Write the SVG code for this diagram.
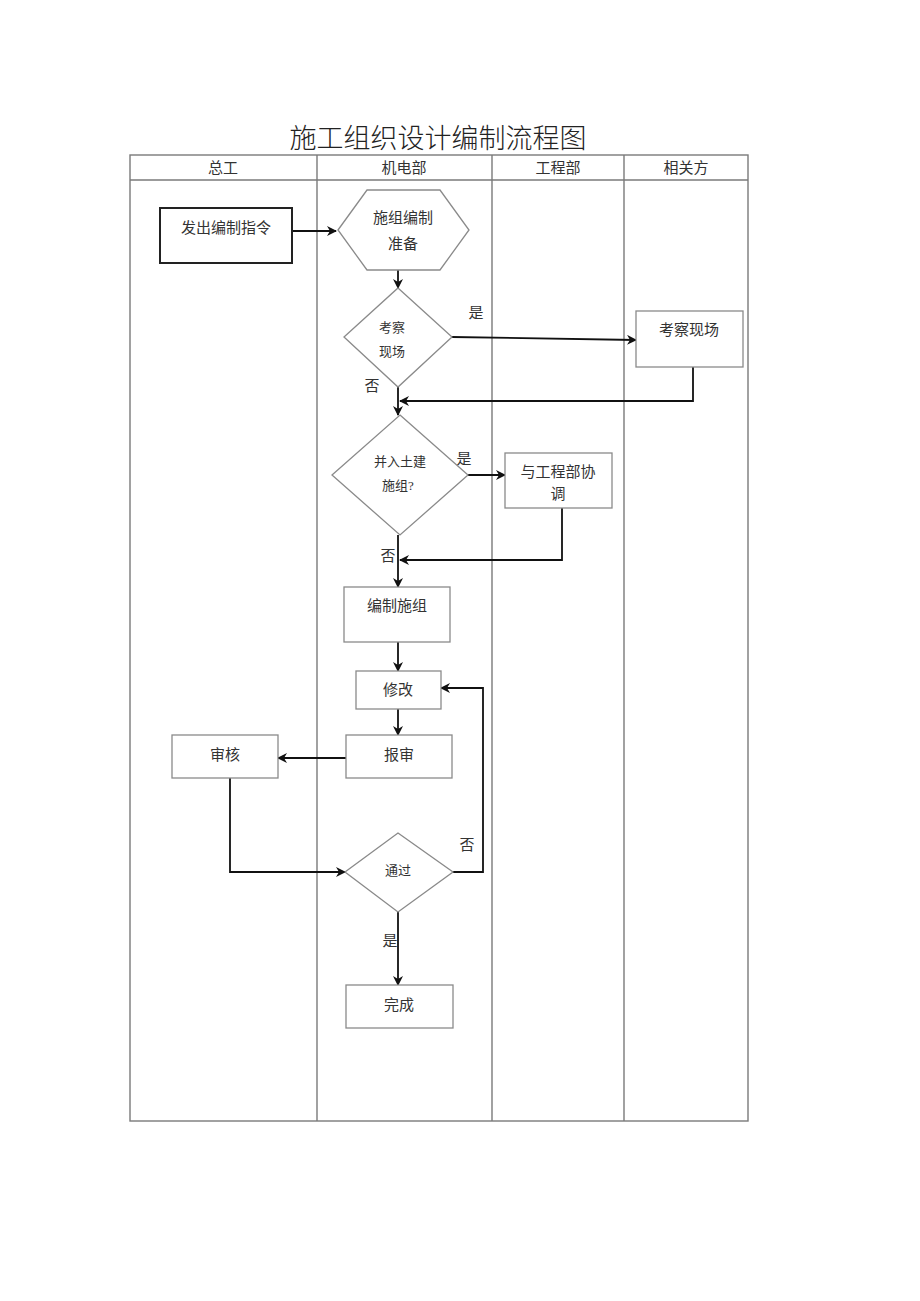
<svg xmlns="http://www.w3.org/2000/svg" width="920" height="1301" viewBox="0 0 920 1301">
<defs>
<marker id="ah" markerWidth="10" markerHeight="10" refX="9" refY="5" orient="auto" markerUnits="userSpaceOnUse">
<path d="M0,0 L10,5 L0,10 L3,5 Z" fill="#111"/>
</marker>
<style>
.t{font-family:"Liberation Serif","Noto Sans CJK SC",serif;fill:#333;text-anchor:middle}
.big{font-size:15px}
.sm{font-size:13px}
.box{fill:#fff;stroke:#8a8a8a;stroke-width:1.3}
.grid{fill:none;stroke:#7a7a7a;stroke-width:1.4}
.c{fill:none;stroke:#111;stroke-width:1.8}
</style>
</defs>
<rect width="920" height="1301" fill="#fff"/>
<text class="t" x="438" y="148" style="font-size:27px;fill:#222;font-weight:300">施工组织设计编制流程图</text>
<g id="table">
<rect class="grid" x="130" y="155" width="618" height="966"/>
<line class="grid" x1="130" y1="180" x2="748" y2="180"/>
<line class="grid" x1="317" y1="155" x2="317" y2="1121"/>
<line class="grid" x1="492" y1="155" x2="492" y2="1121"/>
<line class="grid" x1="624" y1="155" x2="624" y2="1121"/>
<text class="t big" x="223" y="173">总工</text>
<text class="t big" x="404" y="173">机电部</text>
<text class="t big" x="558" y="173">工程部</text>
<text class="t big" x="686" y="173">相关方</text>
</g>
<g id="connectors">
<line class="c" x1="292" y1="231" x2="336" y2="231" marker-end="url(#ah)"/>
<line class="c" x1="398" y1="270" x2="398" y2="288" marker-end="url(#ah)"/>
<line class="c" x1="452" y1="337" x2="636" y2="340" marker-end="url(#ah)"/>
<polyline class="c" points="693,367 693,401 400,401" marker-end="url(#ah)"/>
<line class="c" x1="398" y1="387" x2="398" y2="415" marker-end="url(#ah)"/>
<line class="c" x1="468" y1="475" x2="505" y2="475" marker-end="url(#ah)"/>
<polyline class="c" points="562,508 562,560 400,560" marker-end="url(#ah)"/>
<line class="c" x1="398" y1="535" x2="398" y2="587" marker-end="url(#ah)"/>
<line class="c" x1="398" y1="642" x2="398" y2="671" marker-end="url(#ah)"/>
<line class="c" x1="398" y1="709" x2="398" y2="735" marker-end="url(#ah)"/>
<line class="c" x1="346" y1="758" x2="278" y2="758" marker-end="url(#ah)"/>
<polyline class="c" points="230,778 230,872 345,872" marker-end="url(#ah)"/>
<polyline class="c" points="453,872 483,872 483,688 441,688" marker-end="url(#ah)"/>
<line class="c" x1="398" y1="912" x2="398" y2="985" marker-end="url(#ah)"/>
<text class="t big" x="476" y="318">是</text>
<text class="t big" x="372" y="391">否</text>
<text class="t big" x="464" y="464">是</text>
<text class="t big" x="388" y="561">否</text>
<text class="t big" x="467" y="850">否</text>
<text class="t big" x="390" y="946">是</text>
</g>
<g id="n1"><rect x="160" y="208" width="132" height="55" fill="#fff" stroke="#222" stroke-width="2"/><text class="t big" x="226" y="233">发出编制指令</text></g>
<g id="n2"><polygon class="box" points="338,230 367,190 440,190 469,230 440,270 367,270"/><text class="t big" x="403" y="223">施组编制</text><text class="t big" x="403" y="249">准备</text></g>
<g id="n3"><polygon class="box" points="398,288 452,337 398,387 344,337"/><text class="t sm" x="392" y="332">考察</text><text class="t sm" x="392" y="356">现场</text></g>
<g id="n4"><rect class="box" x="636" y="311" width="107" height="56"/><text class="t big" x="689" y="335">考察现场</text></g>
<g id="n5"><polygon class="box" points="400,415 468,475 400,535 332,475"/><text class="t sm" x="400" y="466">并入土建</text><text class="t sm" x="398" y="490">施组?</text></g>
<g id="n6"><rect class="box" x="505" y="453" width="107" height="55"/><text class="t big" x="558" y="477">与工程部协</text><text class="t big" x="558" y="499">调</text></g>
<g id="n7"><rect class="box" x="344" y="587" width="106" height="55"/><text class="t big" x="397" y="611">编制施组</text></g>
<g id="n8"><rect class="box" x="356" y="671" width="85" height="38"/><text class="t big" x="398" y="695">修改</text></g>
<g id="n9"><rect class="box" x="346" y="735" width="106" height="43"/><text class="t big" x="399" y="760">报审</text></g>
<g id="n10"><rect class="box" x="172" y="735" width="106" height="43"/><text class="t big" x="225" y="760">审核</text></g>
<g id="n11"><polygon class="box" points="398,833 453,872 398,912 345,872"/><text class="t sm" x="398" y="875">通过</text></g>
<g id="n12"><rect class="box" x="346" y="985" width="107" height="43"/><text class="t big" x="399" y="1010">完成</text></g>
</svg>
